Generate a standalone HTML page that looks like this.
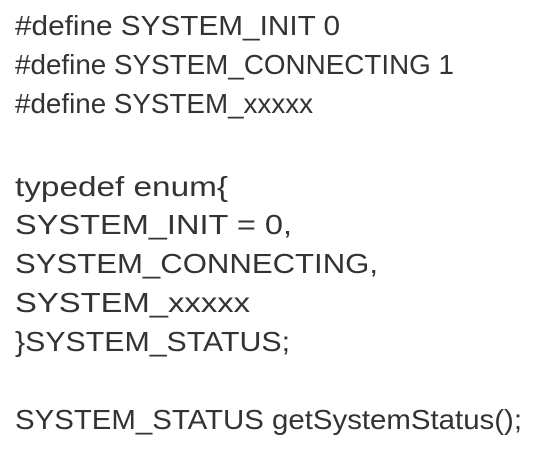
<!DOCTYPE html>
<html><head><meta charset="utf-8"><style>
html,body{margin:0;padding:0;background:#fff;width:554px;height:456px;overflow:hidden}
text{font-family:"Liberation Sans",sans-serif;font-size:28px;fill:#333}
</style></head><body>
<svg width="554" height="456" xmlns="http://www.w3.org/2000/svg">
<text x="15" y="35" textLength="325" lengthAdjust="spacingAndGlyphs">#define SYSTEM_INIT 0</text>
<text x="15" y="74" textLength="439" lengthAdjust="spacingAndGlyphs">#define SYSTEM_CONNECTING 1</text>
<text x="15" y="113" textLength="298" lengthAdjust="spacingAndGlyphs">#define SYSTEM_xxxxx</text>
<text x="15" y="196" textLength="213" lengthAdjust="spacingAndGlyphs">typedef enum{</text>
<text x="15" y="234" textLength="277" lengthAdjust="spacingAndGlyphs">SYSTEM_INIT = 0,</text>
<text x="15" y="273" textLength="363" lengthAdjust="spacingAndGlyphs">SYSTEM_CONNECTING,</text>
<text x="15" y="312" textLength="235" lengthAdjust="spacingAndGlyphs">SYSTEM_xxxxx</text>
<text x="15" y="351" textLength="275" lengthAdjust="spacingAndGlyphs">}SYSTEM_STATUS;</text>
<text x="15" y="429" textLength="507" lengthAdjust="spacingAndGlyphs">SYSTEM_STATUS getSystemStatus();</text>
</svg>
</body></html>
